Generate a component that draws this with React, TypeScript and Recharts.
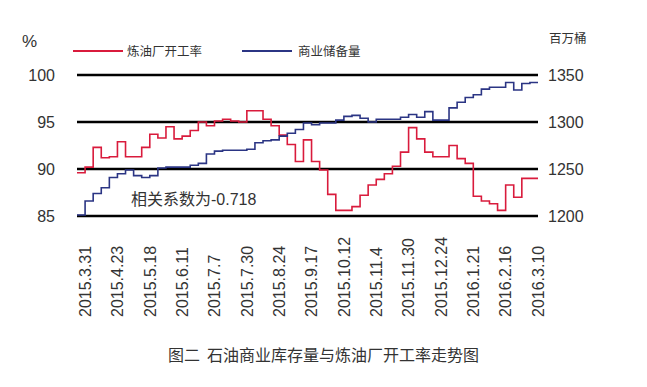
import React from 'react';
import { LineChart, Line, XAxis, YAxis, CartesianGrid } from 'recharts';

const RED = '#d91b3c';
const NAVY = '#2b3584';
const TEXT = '#333333';
const SANS = "'Liberation Sans', Arial, 'Noto Sans CJK SC', sans-serif";
const CJK = "'Noto Sans CJK SC', 'Liberation Sans', sans-serif";

// x-axis tick labels (one every 4 data points, first point is a lead-in)
const dates = [
  '2015.3.31', '2015.4.23', '2015.5.18', '2015.6.11', '2015.7.7',
  '2015.7.30', '2015.8.24', '2015.9.17', '2015.10.12', '2015.11.4',
  '2015.11.30', '2015.12.24', '2016.1.21', '2016.2.16', '2016.3.10',
];

// 炼油厂开工率 (%)
const refinery = [
  89.6, 90.2, 92.3, 91.2, 91.3, 92.9, 91.3, 91.3, 92.3, 93.7,
  93.3, 94.5, 93.2, 93.5, 94.1, 95.0, 94.6, 95.1, 95.3, 95.1,
  95.0, 96.2, 96.2, 95.3, 94.6, 93.6, 92.6, 90.8, 93.1, 90.8,
  89.9, 87.3, 85.6, 85.6, 86.0, 87.2, 88.3, 88.9, 89.5, 90.3,
  91.8, 94.4, 93.2, 91.8, 91.3, 91.3, 92.5, 91.1, 90.6, 87.1,
  86.6, 86.3, 85.6, 88.3, 87.0, 89.0, 89.0, 89.0,
];

// 商业储备量 (百万桶)
const stocks = [
  1201, 1216, 1224, 1230, 1241, 1245, 1249, 1243, 1241, 1243,
  1251, 1252, 1252, 1252, 1254, 1256, 1266, 1269, 1270, 1270,
  1270, 1271, 1278, 1280, 1281, 1285, 1288, 1292, 1299, 1297,
  1299, 1299, 1302, 1306, 1307, 1304, 1300, 1303, 1303, 1303,
  1305, 1308, 1305, 1311, 1302, 1302, 1315, 1321, 1326, 1329,
  1335, 1337, 1337, 1342, 1334, 1341, 1342, 1342,
];

const leftTicks = [85, 90, 95, 100];
const rightTicks = [1200, 1250, 1300, 1350];

const data = refinery.map((r, i) => ({ i, refinery: r, stocks: stocks[i] }));

const dateAt = (i: number) => ((i - 1) % 4 === 0 ? dates[(i - 1) / 4] ?? '' : '');

const XTick = (props: any) => {
  const { x, y, payload } = props;
  const label = dateAt(Number(payload.value));
  if (!label) return <g />;
  const by = y + 93;
  return (
    <text
      x={x}
      y={by}
      transform={`rotate(-90 ${x} ${by})`}
      textAnchor="start"
      dy="0.36em"
      fontSize={16}
      fontFamily={SANS}
      fill={TEXT}
    >
      {label}
    </text>
  );
};

const LegendBox = () => (
  <svg width={320} height={20} style={{ position: 'absolute', left: 70, top: 41 }}>
    <line x1={3} y1={10} x2={53} y2={10} stroke={RED} strokeWidth={2} />
    <text x={57} y={10} dy="0.36em" fontSize={12.5} fontFamily={CJK} fill={TEXT}>
      炼油厂开工率
    </text>
    <line x1={172} y1={10} x2={222} y2={10} stroke={NAVY} strokeWidth={2} />
    <text x={228} y={10} dy="0.36em" fontSize={12.5} fontFamily={CJK} fill={TEXT}>
      商业储备量
    </text>
  </svg>
);

export default function App() {
  return (
    <div
      style={{
        position: 'absolute',
        left: 0,
        top: 0,
        width: 647,
        height: 387,
        background: '#fff',
        overflow: 'hidden',
      }}
    >
      <LineChart
        width={647}
        height={387}
        data={data}
        margin={{ top: 75, right: 49, bottom: 81, left: 17 }}
      >
        <CartesianGrid vertical={false} stroke="#000" strokeWidth={2.5} yAxisId="left" />
        <XAxis
          dataKey="i"
          type="category"
          interval={0}
          axisLine={false}
          tickLine={false}
          height={90}
          tick={XTick}
        />
        <YAxis
          yAxisId="left"
          domain={[85, 100]}
          ticks={leftTicks}
          axisLine={false}
          tickLine={false}
          tickMargin={16}
          width={60}
          tick={{ fill: TEXT, fontSize: 16, fontFamily: SANS }}
        />
        <YAxis
          yAxisId="right"
          orientation="right"
          domain={[1200, 1350]}
          ticks={rightTicks}
          axisLine={false}
          tickLine={false}
          tickMargin={4}
          width={60}
          tick={{ fill: TEXT, fontSize: 16, fontFamily: SANS, textAnchor: 'start' }}
        />
        <Line
          yAxisId="left"
          type="stepAfter"
          dataKey="refinery"
          stroke={RED}
          strokeWidth={1.6}
          dot={false}
          isAnimationActive={false}
        />
        <Line
          yAxisId="right"
          type="stepAfter"
          dataKey="stocks"
          stroke={NAVY}
          strokeWidth={1.6}
          dot={false}
          isAnimationActive={false}
        />
      </LineChart>

      <LegendBox />
      <div style={{ position: 'absolute', left: 22, top: 32, fontSize: 17, fontFamily: SANS, color: TEXT }}>%</div>
      <div style={{ position: 'absolute', left: 549, top: 28, fontSize: 12.5, fontFamily: CJK, color: TEXT }}>百万桶</div>
      <div
        style={{
          position: 'absolute',
          left: 131,
          top: 186,
          fontSize: 16,
          fontFamily: SANS,
          color: TEXT,
          whiteSpace: 'nowrap',
        }}
      >
        相关系数为-0.718
      </div>
      <div
        style={{
          position: 'absolute',
          left: 0,
          width: 647,
          top: 342,
          textAlign: 'center',
          fontSize: 16,
          fontFamily: CJK,
          color: TEXT,
          whiteSpace: 'pre',
        }}
      >
        图二  石油商业库存量与炼油厂开工率走势图
      </div>
    </div>
  );
}
